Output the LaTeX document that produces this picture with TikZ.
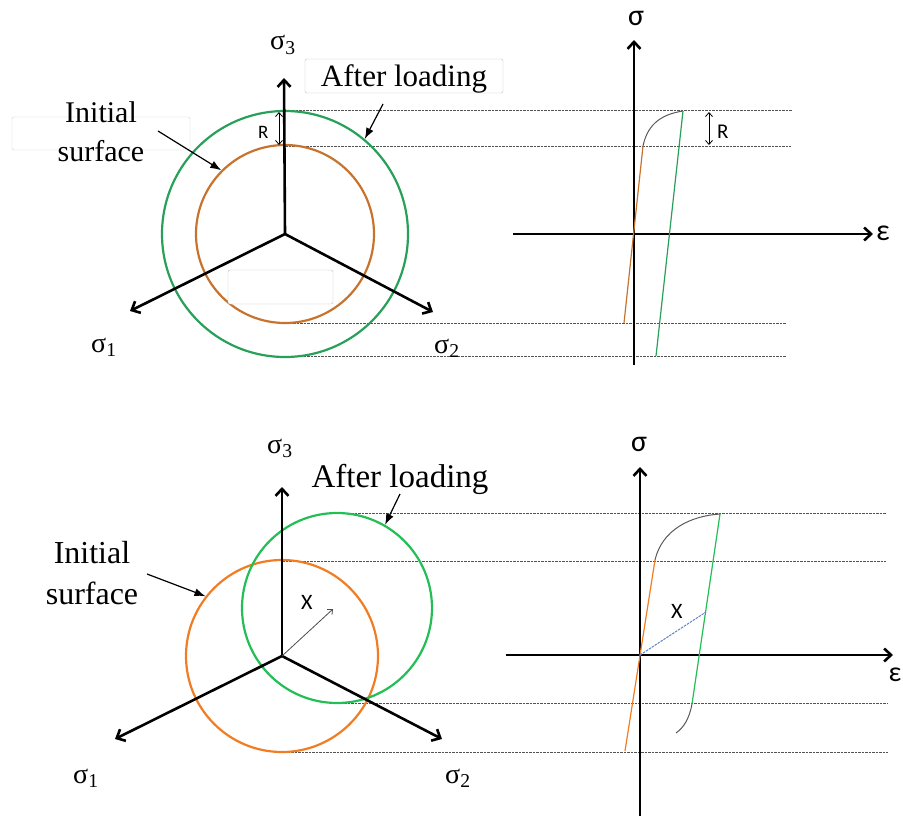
\documentclass[tikz,border=0pt]{standalone}
\usepackage{fontspec}
\setmainfont{Liberation Serif}
\newfontfamily\plotsf{Carlito}
\usetikzlibrary{arrows.meta}

\definecolor{topgreen}{RGB}{40,160,90}
\definecolor{toporange}{RGB}{200,115,45}
\definecolor{botgreen}{RGB}{35,190,85}
\definecolor{botorange}{RGB}{240,125,35}
\definecolor{xblue}{RGB}{95,130,200}

\begin{document}
\begin{tikzpicture}[
  x=1pt, y=-1pt,
  axis/.style={line width=2.6pt, -{Straight Barb[length=7pt,width=13pt]}},
  guide/.style={gray!65!black, line width=1pt, dash pattern=on 2.5pt off 1pt},
  surf/.style={draw, circle, line width=2.2pt, inner sep=0pt},
  pointer/.style={line width=1.2pt, -{Latex[length=11pt,width=8pt]}},
  gapline/.style={line width=0.8pt, {Straight Barb[length=4pt,width=7pt]}-{Straight Barb[length=4pt,width=7pt]}},
  arcline/.style={gray!70!black, line width=1pt},
  branch/.style={line width=1.2pt},
  box/.style={rounded corners=2pt, inner sep=0pt},
  sig/.style={inner sep=0pt, anchor=base west, font=\fontsize{28}{30}\selectfont},
  sf/.style={inner sep=0pt, font=\plotsf\fontsize{#1}{#1}\selectfont}
]
\useasboundingbox (0,0) rectangle (903,816);

% ---- top: isotropic hardening, pi-plane
\coordinate (o1) at (285,234);
\draw[guide] (285,111) -- (792,111);
\draw[guide] (285,146) -- (791,146);
\draw[guide] (279,323) -- (786,323);
\draw[guide] (279,356) -- (786,356);
\node[surf, topgreen, minimum size=246pt] (after1) at (o1) {};
\node[surf, toporange, minimum size=178pt] (init1) at (o1) {};
\coordinate (s3a) at (284,78);
\coordinate (s1a) at (130,311);
\coordinate (s2a) at (433,312);
\draw[axis] (o1) -- (s3a);
\draw[axis] (o1) -- (s1a);
\draw[axis] (o1) -- (s2a);
\node[draw=gray!50, fill=white, box, minimum width=105pt, minimum height=34pt] (blank1) at (280.5,287) {};
\node[sig] (s3lbl) at (270,50) {σ\textsubscript{3}};
\node[sig] (s1lbl) at (91,352) {σ\textsubscript{1}};
\node[sig] (s2lbl) at (434,353) {σ\textsubscript{2}};
\coordinate (r1top) at (279,112);
\coordinate (r1bot) at (279,145);
\draw[gapline] (r1top) -- (r1bot);
\node[sf=19, anchor=base west] (r1lbl) at (258,138) {R};
\node[draw=gray!35, box, minimum width=178pt, minimum height=33pt] (initbox1) at (101,133.5) {};
\node[align=center, font=\fontsize{30}{39}\selectfont] (init1lbl) at (101,132) {Initial\\surface};
\node[draw=gray!50, box, minimum width=198pt, minimum height=34pt] (afterbox1) at (404,76) {};
\node[anchor=base, inner sep=0pt, font=\fontsize{31}{31}\selectfont] (after1lbl) at (404,87) {After loading};
\coordinate (p1) at (158,131);
\coordinate (p2) at (383,104);
\draw[pointer] (p1) -- (init1.135);
\draw[pointer] (p2) -- (after1.50);

% ---- top: stress-strain
\coordinate (e1a) at (513,234);
\coordinate (e1b) at (873,234);
\coordinate (g1a) at (634,365);
\coordinate (g1b) at (634,40);
\draw[axis] (e1a) -- (e1b);
\draw[axis] (g1a) -- (g1b);
\node[sf=30, anchor=base] (sg1lbl) at (636,26) {σ};
\node[sf=30, anchor=base] (ep1lbl) at (883,240) {ε};
\coordinate (y1lo) at (624,323);
\coordinate (y1hi) at (643,146);
\coordinate (u1hi) at (683,111);
\coordinate (u1lo) at (656,356);
\draw[branch, toporange] (y1lo) -- (y1hi);
\draw[arcline] (y1hi) .. controls (648,122) and (664,114) .. (u1hi);
\draw[branch, topgreen] (u1hi) -- (u1lo);
\coordinate (r2top) at (709,112);
\coordinate (r2bot) at (709,145);
\draw[gapline] (r2top) -- (r2bot);
\node[sf=21, anchor=base west] (r2lbl) at (717,139) {R};

% ---- bottom: kinematic hardening, pi-plane
\coordinate (o2) at (282,656);
\coordinate (c2) at (337,608);
\draw[guide] (330,513) -- (886,513);
\draw[guide] (282,561) -- (886,561);
\draw[guide] (337,703) -- (888,703);
\draw[guide] (277,752) -- (888,752);
\node[surf, botorange, minimum size=192pt] (init2) at (o2) {};
\node[surf, botgreen, minimum size=190pt] (after2) at (c2) {};
\coordinate (s3b) at (282,487);
\coordinate (s1b) at (115,739);
\coordinate (s2b) at (442,739);
\draw[axis] (o2) -- (s3b);
\draw[axis] (o2) -- (s1b);
\draw[axis] (o2) -- (s2b);
\coordinate (xb) at (333,609);
\draw[line width=0.8pt, gray!60!black, -{Straight Barb[length=4pt,width=7pt]}] (o2) -- (xb);
\node[sf=22, anchor=base west] (x1lbl) at (301,609) {X};
\node[sig] (s3lbl2) at (267,453) {σ\textsubscript{3}};
\node[sig] (s1lbl2) at (73,783) {σ\textsubscript{1}};
\node[sig] (s2lbl2) at (445,783) {σ\textsubscript{2}};
\node[align=center, font=\fontsize{32}{41}\selectfont] (init2lbl) at (92,573) {Initial\\surface};
\node[anchor=base, inner sep=0pt, font=\fontsize{33}{33}\selectfont] (after2lbl) at (400,487) {After loading};
\coordinate (p3) at (147,574);
\coordinate (p4) at (400,494);
\draw[pointer] (p3) -- (init2.142);
\draw[pointer] (p4) -- (after2.60);

% ---- bottom: stress-strain
\coordinate (o3) at (640,655);
\coordinate (e2a) at (506,655);
\coordinate (e2b) at (893,655);
\coordinate (g2a) at (640,816);
\coordinate (g2b) at (640,467);
\draw[axis] (e2a) -- (e2b);
\draw[axis] (g2a) -- (g2b);
\node[sf=30, anchor=base] (sg2lbl) at (639,451) {σ};
\node[sf=28, anchor=base] (ep2lbl) at (895,681) {ε};
\coordinate (y2lo) at (625,751);
\coordinate (y2hi) at (655,560);
\coordinate (u2hi) at (720,514);
\coordinate (u2lo) at (692,704);
\coordinate (u2end) at (676,733);
\coordinate (xc) at (706,612);
\draw[branch, botorange] (y2lo) -- (y2hi);
\draw[arcline] (y2hi) .. controls (662,530) and (690,516) .. (u2hi);
\draw[branch, botgreen] (u2hi) -- (u2lo);
\draw[arcline] (u2lo) .. controls (689,720) and (683,728) .. (u2end);
\draw[xblue, line width=1pt, dash pattern=on 2.5pt off 1pt] (o3) -- (xc);
\node[sf=22, anchor=base west] (x2lbl) at (671,618) {X};
\end{tikzpicture}
\end{document}
